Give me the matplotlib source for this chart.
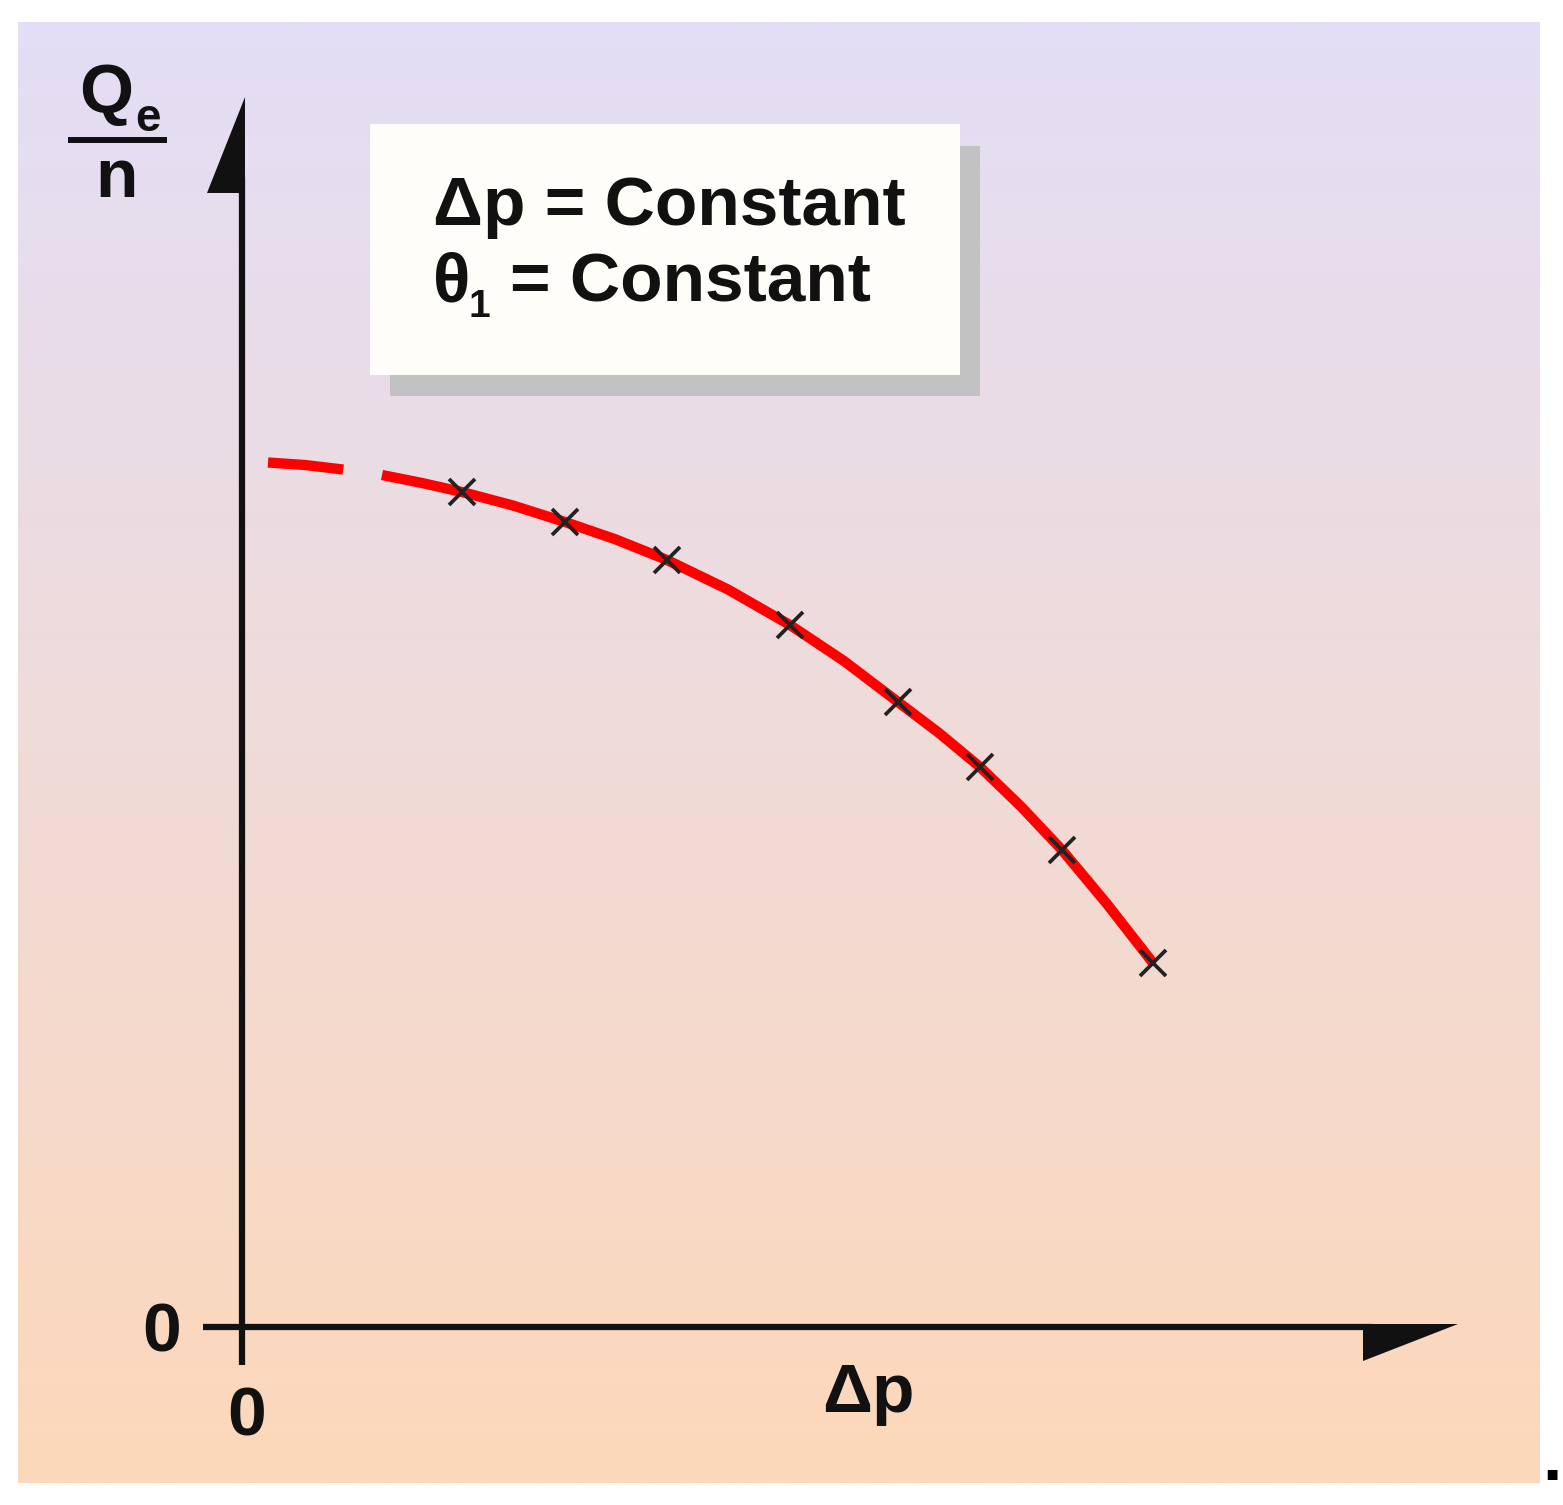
import numpy as np
import matplotlib
matplotlib.use("Agg")
import matplotlib.pyplot as plt
from matplotlib.patches import Rectangle, Polygon
from matplotlib.transforms import ScaledTranslation

plt.rcParams['font.family'] = ['Liberation Sans', 'DejaVu Sans']
plt.rcParams['font.weight'] = 'bold'

# dashed (extrapolated) start of the curve
dash_x = [0.26, 0.63, 1.01, 1.40]
dash_y = [8.645, 8.62, 8.575, 8.52]

curve_x = [1.40, 1.80, 2.20, 2.71, 3.23, 3.74, 4.25, 4.86, 5.48, 6.02,
           6.56, 6.97, 7.38, 7.79, 8.20, 8.65, 9.11]
curve_y = [8.52, 8.44, 8.35, 8.215, 8.05, 7.875, 7.67, 7.375, 7.02, 6.66,
           6.25, 5.94, 5.60, 5.205, 4.77, 4.23, 3.64]

# measurement points
meas_x = [2.20, 3.23, 4.25, 5.48, 6.56, 7.38, 8.20, 9.11]
meas_y = [8.35, 8.05, 7.67, 7.02, 6.25, 5.60, 4.77, 3.64]

xlim = (-2.24, 12.98)
ylim = (-1.56, 13.05)
ink = '#111111'

fig = plt.figure(figsize=(15.63, 15.05), dpi=100)
ax = fig.add_axes([18 / 1563, 1 - 1483 / 1505, 1522 / 1563, 1461 / 1505])
ax.set_xlim(*xlim)
ax.set_ylim(*ylim)

# background gradient lavender -> peach
top = np.array([227, 222, 246]) / 255
bot = np.array([253, 216, 186]) / 255
t = np.linspace(0, 1, 256)[:, None]
grad = (top * (1 - t) + bot * t)[:, None, :]
ax.imshow(grad, extent=[*xlim, *ylim], aspect='auto', zorder=0,
          origin='upper', interpolation='bilinear')

# axes through the origin
for side in ['top', 'right']:
    ax.spines[side].set_visible(False)
ax.spines['left'].set_position(('data', 0))
ax.spines['bottom'].set_position(('data', 0))
ax.spines['left'].set_bounds(-0.38, 11.5)
ax.spines['bottom'].set_bounds(-0.39, 11.3)
for side in ['left', 'bottom']:
    ax.spines[side].set_linewidth(4.5)
    ax.spines[side].set_color(ink)
    ax.spines[side].set_capstyle('butt')
    ax.spines[side].set_zorder(2)

ax.set_xticks([0])
ax.set_yticks([0])
ax.tick_params(length=0, labelsize=50, colors=ink)
ax.tick_params(axis='x', pad=42)
ax.tick_params(axis='y', pad=44)
shift = ScaledTranslation(5 / 100, 0, fig.dpi_scale_trans)
for lab in ax.get_xticklabels():
    lab.set_transform(lab.get_transform() + shift)

# half arrow heads
ax.add_patch(Polygon([(0.03, 12.30), (-0.35, 11.34), (0.03, 11.34)],
                     closed=True, color=ink, lw=0, zorder=2))
ax.add_patch(Polygon([(12.16, 0.03), (11.21, 0.03), (11.21, -0.34)],
                     closed=True, color=ink, lw=0, zorder=2))

# axis labels
ax.text(6.26, -0.85, 'Δp', fontsize=50, ha='center', va='baseline', color=ink)
ax.text(-1.36, 12.15, 'Q', fontsize=50, ha='center', va='baseline', color=ink)
ax.text(-0.94, 11.96, 'e', fontsize=33, ha='center', va='baseline', color=ink)
ax.plot([-1.74, -0.75], [11.87, 11.87], color=ink, lw=4.3,
        solid_capstyle='butt', clip_on=False)
ax.text(-1.26, 11.30, 'n', fontsize=50, ha='center', va='baseline', color=ink)

# info box with shadow
ax.add_patch(Rectangle((1.48, 9.31), 5.90, 2.50, facecolor='#C2C2C2', lw=0, zorder=3))
ax.add_patch(Rectangle((1.28, 9.52), 5.90, 2.51, facecolor='#FFFDFA', lw=0, zorder=4))
ax.text(1.91, 11.02, 'Δp = Constant', fontsize=50, ha='left', va='baseline',
        color=ink, zorder=5)
ax.text(1.91, 10.25, 'θ', fontsize=50, ha='left', va='baseline', color=ink, zorder=5)
ax.text(2.37, 10.10, '1', fontsize=28, ha='center', va='baseline', color=ink,
        zorder=5)
ax.text(6.29, 10.25, '= Constant', fontsize=50, ha='right', va='baseline',
        color=ink, zorder=5)

# curve
ax.plot(dash_x, dash_y, color='#FF0000', lw=7.4, linestyle=(0, (7.35, 3.85)),
        dash_capstyle='butt', zorder=5)
ax.plot(curve_x, curve_y, color='#FF0000', lw=7.4, solid_capstyle='butt',
        solid_joinstyle='round', zorder=5)
ax.plot(meas_x, meas_y, linestyle='none', marker='x', markersize=19,
        markeredgewidth=2.7, color='#222222', zorder=6)

fig.text(1552 / 1563, 1 - 1480 / 1505, '.', fontsize=50, ha='center',
         va='baseline', color='black')

fig.savefig('out.png', dpi=100, facecolor='white')
